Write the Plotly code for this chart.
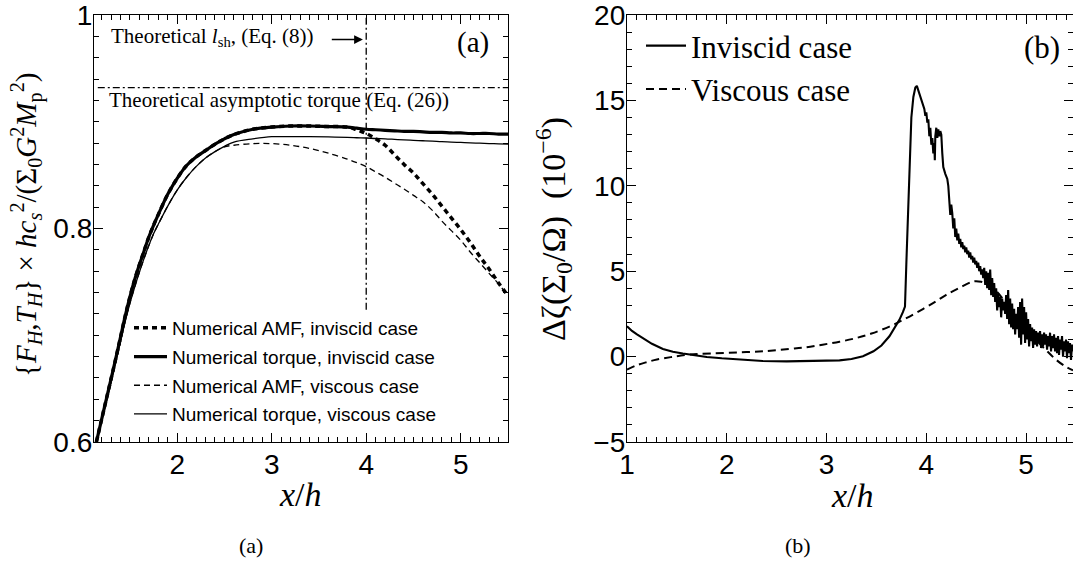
import plotly.graph_objects as go

# ---------------- panel (a): normalised AMF and torque ----------------
xa = [1.145, 1.2, 1.25, 1.3, 1.35, 1.4, 1.45, 1.5, 1.55, 1.6, 1.65, 1.7, 1.75, 1.8,
      1.9, 2.0, 2.1, 2.2, 2.3, 2.4, 2.5, 2.6, 2.8, 3.0, 3.2, 3.4, 3.6, 3.8, 3.9, 4.0,
      4.1, 4.2, 4.3, 4.4, 4.5, 4.6, 4.7, 4.8, 4.9, 5.0, 5.1, 5.2, 5.3, 5.4, 5.5]

torque_inviscid = [0.600, 0.621, 0.640, 0.659, 0.678, 0.698, 0.718, 0.736, 0.752, 0.766,
                   0.779, 0.792, 0.803, 0.813, 0.832, 0.847, 0.859, 0.867, 0.873, 0.879,
                   0.884, 0.888, 0.893, 0.895, 0.896, 0.896, 0.8955, 0.895, 0.894, 0.893,
                   0.8925, 0.892, 0.8915, 0.891, 0.891, 0.8905, 0.890, 0.890, 0.8895, 0.8895,
                   0.889, 0.889, 0.889, 0.8885, 0.8885]

amf_inviscid = [0.600, 0.621, 0.640, 0.659, 0.678, 0.698, 0.718, 0.736, 0.752, 0.766,
                0.779, 0.792, 0.803, 0.813, 0.832, 0.847, 0.859, 0.867, 0.873, 0.879,
                0.884, 0.888, 0.893, 0.895, 0.896, 0.896, 0.8955, 0.895, 0.8925, 0.889,
                0.884, 0.878, 0.869, 0.860, 0.852, 0.842, 0.832, 0.821, 0.810, 0.799,
                0.787, 0.774, 0.762, 0.749, 0.737]

torque_viscous = [0.600, 0.620, 0.638, 0.656, 0.675, 0.694, 0.713, 0.730, 0.745, 0.759,
                  0.772, 0.784, 0.795, 0.804, 0.821, 0.836, 0.848, 0.858, 0.866, 0.872,
                  0.877, 0.881, 0.884, 0.886, 0.886, 0.886, 0.8858, 0.8853, 0.885, 0.8848,
                  0.8843, 0.884, 0.8835, 0.883, 0.8826, 0.8822, 0.8818, 0.8813, 0.881, 0.8806,
                  0.8802, 0.8799, 0.8796, 0.8793, 0.879]

amf_viscous = [0.600, 0.620, 0.638, 0.656, 0.675, 0.694, 0.713, 0.730, 0.745, 0.759,
               0.772, 0.784, 0.795, 0.804, 0.821, 0.836, 0.848, 0.858, 0.866, 0.872,
               0.8765, 0.878, 0.8795, 0.8795, 0.878, 0.875, 0.8705, 0.865, 0.8617, 0.858,
               0.853, 0.848, 0.8425, 0.837, 0.831, 0.825, 0.817, 0.807, 0.798, 0.789,
               0.778, 0.768, 0.758, 0.748, 0.737]

x_lsh = 4.0                 # theoretical shock distance l_sh (Eq. 8)
lsh_y_span = [0.724, 1.0]
torque_asymptotic = 0.932   # theoretical asymptotic torque (Eq. 26)
torque_line_x = [1.16, 5.5]

# ---------------- panel (b): vortensity perturbation ----------------
xb_inviscid = [
    1.00, 1.05, 1.10, 1.16, 1.25, 1.36, 1.46, 1.56, 1.68, 1.80, 1.95, 2.13, 2.36, 2.60,
    2.80, 3.00, 3.13, 3.25, 3.365, 3.47, 3.55, 3.63, 3.68, 3.73, 3.765, 3.786, 3.80,
    3.815, 3.83, 3.85, 3.87, 3.89, 3.905, 3.92, 3.94, 3.96, 3.98, 3.99, 4.00, 4.01, 4.02,
    4.03, 4.04, 4.05, 4.06, 4.07, 4.08, 4.085, 4.09, 4.10, 4.11, 4.12, 4.13, 4.14, 4.15,
    4.16, 4.17, 4.19, 4.21, 4.22, 4.23, 4.24, 4.25,
    4.26, 4.27, 4.28, 4.29, 4.30, 4.31, 4.32, 4.33, 4.34, 4.35, 4.36, 4.37, 4.38, 4.39,
    4.40, 4.41, 4.42, 4.43, 4.44, 4.45, 4.46, 4.47, 4.48, 4.49, 4.50, 4.51, 4.52, 4.53,
    4.54, 4.55, 4.56, 4.57, 4.58, 4.59, 4.60, 4.61, 4.62, 4.63, 4.64, 4.65, 4.66, 4.67,
    4.68, 4.69, 4.70, 4.71, 4.72, 4.73, 4.74, 4.75, 4.76, 4.77, 4.78, 4.79, 4.80, 4.81,
    4.82, 4.83, 4.84, 4.85, 4.86, 4.87, 4.88, 4.89, 4.90, 4.91, 4.92, 4.93, 4.94, 4.95,
    4.96, 4.97, 4.98, 4.99, 5.00, 5.01, 5.02, 5.03, 5.04, 5.05, 5.06, 5.07, 5.08, 5.09,
    5.10, 5.11, 5.12, 5.13, 5.14, 5.15, 5.16, 5.17, 5.18, 5.19, 5.20, 5.21, 5.22, 5.23,
    5.24, 5.25, 5.26, 5.27, 5.28, 5.29, 5.30, 5.31, 5.32, 5.33, 5.34, 5.35, 5.36, 5.37,
    5.38, 5.39, 5.40, 5.41, 5.42, 5.43, 5.44, 5.45, 5.46, 5.47]

dzeta_inviscid = [
    1.77, 1.50, 1.30, 1.09, 0.75, 0.45, 0.28, 0.18, 0.06, -0.02, -0.10, -0.18, -0.26, -0.28,
    -0.27, -0.25, -0.22, -0.14, 0.02, 0.31, 0.65, 1.19, 1.65, 2.15, 2.60, 2.93, 5.5,
    8.5, 11.5, 14.0, 15.2, 15.75, 15.85, 15.6, 15.2, 14.9, 14.5, 14.1, 14.3, 13.7, 13.9,
    12.9, 13.4, 12.4, 12.8, 11.9, 12.5, 11.5, 12.9, 13.4, 12.8, 13.3, 12.9, 13.2, 13.0,
    11.9, 11.1, 10.7, 10.4, 10.0, 9.1, 8.3, 8.9,
    8.4, 7.5, 8.1, 7.0, 7.5, 6.8, 7.2, 6.6, 6.9, 6.4, 6.7, 6.3, 6.5, 6.1,
    6.4, 6.0, 6.2, 5.8, 6.1, 5.7, 5.9, 5.5, 5.8, 5.4, 5.6, 5.2, 5.5, 5.0,
    5.3, 4.8, 5.1, 4.6, 5.2, 4.2, 5.0, 4.0, 4.9, 3.9, 5.1, 3.6, 4.6, 3.5,
    4.3, 3.2, 4.0, 2.7, 3.7, 2.9, 3.5, 2.3, 3.4, 2.7, 3.2, 2.5, 3.6, 2.2,
    3.9, 1.9, 3.4, 1.7, 3.1, 1.6, 2.8, 1.3, 2.5, 1.6, 2.9, 1.1, 3.2, 0.7,
    3.4, 1.3, 2.9, 0.8, 2.6, 1.0, 2.2, 0.6, 1.9, 0.9, 1.7, 0.5, 1.6, 0.7,
    1.5, 0.6, 1.4, 0.8, 1.5, 0.5, 1.3, 0.6, 1.4, 0.7, 1.3, 0.4, 1.2, 0.6,
    1.4, 0.3, 1.2, 0.5, 1.3, 0.3, 1.1, 0.2, 1.2, 0.1, 1.0, 0.4, 1.2, 0.0,
    0.9, 0.3, 1.0, -0.1, 0.9, 0.2, 0.8, -0.2, 0.7, 0.3]

xb_viscous = [1.0, 1.1, 1.2, 1.3, 1.45, 1.63, 1.85, 2.13, 2.4, 2.63, 2.8, 2.96, 3.13, 3.3,
              3.45, 3.63, 3.8, 3.97, 4.1, 4.2, 4.33, 4.47, 4.55, 4.6, 4.7, 4.8, 4.87, 5.0,
              5.1, 5.2, 5.3, 5.4, 5.47]
dzeta_viscous = [-0.76, -0.50, -0.32, -0.17, -0.02, 0.12, 0.19, 0.25, 0.33, 0.45, 0.55, 0.70,
                 0.87, 1.09, 1.35, 1.76, 2.25, 2.80, 3.25, 3.62, 4.02, 4.40, 4.38, 4.26, 3.85,
                 3.10, 2.54, 1.70, 0.98, 0.38, -0.18, -0.60, -0.80]

# axis ranges and ticks
xrange_a, yrange_a = [1.12, 5.5], [0.6, 1.0]
xrange_b, yrange_b = [1, 5.47], [-5, 20]
yticks_a = [0.6, 0.8, 1.0]
yticktext_a = ["0.6", "0.8", "1"]
xticks = [1, 2, 3, 4, 5]
yticks_b = [-5, 0, 5, 10, 15, 20]

SANS = "Liberation Sans, Arial, sans-serif"
SERIF = "Liberation Serif, Times New Roman, serif"
W, H = 1073, 565

fig = go.Figure()

# panel (a) curves
fig.add_trace(go.Scatter(x=xa, y=amf_viscous, mode="lines", name="Numerical AMF, viscous case",
                         line=dict(color="black", width=1.3, dash="6px,4px", shape="spline"),
                         xaxis="x", yaxis="y", legend="legend", legendgroup="g3", legendrank=3))
fig.add_trace(go.Scatter(x=xa, y=torque_viscous, mode="lines", name="Numerical torque, viscous case",
                         line=dict(color="black", width=1.3, shape="spline"),
                         xaxis="x", yaxis="y", legend="legend", legendgroup="g4", legendrank=4))
fig.add_trace(go.Scatter(x=xa, y=torque_inviscid, mode="lines", name="Numerical torque, inviscid case",
                         line=dict(color="black", width=3.2, shape="spline"),
                         xaxis="x", yaxis="y", legend="legend", legendgroup="g2", legendrank=2))
fig.add_trace(go.Scatter(x=xa, y=amf_inviscid, mode="lines", name="Numerical AMF, inviscid case",
                         line=dict(color="black", width=3.5, dash="5px,4px", shape="spline"),
                         xaxis="x", yaxis="y", legend="legend", legendgroup="g1", legendrank=1))

# theoretical references in panel (a)
fig.add_trace(go.Scatter(x=[x_lsh, x_lsh], y=lsh_y_span, mode="lines", showlegend=False,
                         line=dict(color="black", width=1.3, dash="7px,3px,2px,3px"),
                         xaxis="x", yaxis="y", hoverinfo="skip"))
fig.add_trace(go.Scatter(x=torque_line_x, y=[torque_asymptotic, torque_asymptotic], mode="lines",
                         showlegend=False,
                         line=dict(color="black", width=1.3, dash="7px,3px,2px,3px"),
                         xaxis="x", yaxis="y", hoverinfo="skip"))

# panel (b) curves
fig.add_trace(go.Scatter(x=xb_inviscid, y=dzeta_inviscid, mode="lines", name="Inviscid case",
                         line=dict(color="black", width=2.1),
                         xaxis="x2", yaxis="y2", legend="legend2"))
fig.add_trace(go.Scatter(x=xb_viscous, y=dzeta_viscous, mode="lines", name="Viscous case",
                         line=dict(color="black", width=2, dash="8px,5px", shape="spline"),
                         xaxis="x2", yaxis="y2", legend="legend2"))


def axis(domain, rng, vals, anchor, standoff, minor_step, minor_start, text=None):
    d = dict(
        domain=domain, range=rng, anchor=anchor, automargin=False,
        showline=True, linecolor="black", linewidth=1.3, mirror="allticks",
        ticks="inside", ticklen=9, tickwidth=1.3, tickcolor="#000000",
        tickmode="array", tickvals=vals, ticklabelstandoff=standoff,
        showgrid=False, zeroline=False, ticklabeloverflow="allow",
        tickfont=dict(family=SANS, size=28, color="black"),
        minor=dict(ticks="inside", ticklen=5, tickwidth=1.1, tickcolor="#000000",
                   showgrid=False, tickmode="linear", dtick=minor_step, tick0=minor_start),
    )
    if text is not None:
        d["ticktext"] = text
    return d


y_dom = [1 - 442 / H, 1 - 15 / H]

fig.update_layout(
    width=W, height=H, autosize=False,
    margin=dict(l=0, r=0, t=0, b=0, pad=0, autoexpand=False),
    paper_bgcolor="white", plot_bgcolor="white",
    xaxis=axis([94 / W, 508 / W], xrange_a, xticks, "y", -3, 0.1, 1),
    yaxis=axis(y_dom, yrange_a, yticks_a, "x", -5, 0.02, 0.6, yticktext_a),
    xaxis2=axis([627 / W, 1.0], xrange_b, xticks, "y2", -3, 0.1, 1),
    yaxis2=axis(y_dom, yrange_b, yticks_b, "x2", -5, 1, -5),
    legend=dict(x=129 / W, y=1 - 309 / H, xanchor="left", yanchor="top",
                bgcolor="rgba(0,0,0,0)", borderwidth=0, tracegroupgap=1, itemwidth=33,
                font=dict(family=SANS, size=19, color="black")),
    legend2=dict(x=641 / W, y=1 - 19 / H, xanchor="left", yanchor="top",
                 bgcolor="rgba(0,0,0,0)", borderwidth=0, itemwidth=40,
                 font=dict(family=SERIF, size=31, color="black")),
    showlegend=True,
)


def serif(s):
    return dict(family=SERIF, size=s, color="black")


def label(x, y, text, size, xref="paper", yref="paper", angle=0, xanchor="center"):
    return dict(x=x, y=y, xref=xref, yref=yref, text=text, showarrow=False,
                xanchor=xanchor, yanchor="middle", textangle=angle, font=serif(size))


annotations = [
    # panel (a)
    label(1.283, 0.9797, "Theoretical <i>l</i><sub>sh</sub>, (Eq. (8))", 21, "x", "y", xanchor="left"),
    dict(x=3.965, y=0.977, ax=3.62, ay=0.977, xref="x", yref="y", axref="x", ayref="y",
         text="", showarrow=True, arrowhead=2, arrowsize=1.1, arrowwidth=1.6, arrowcolor="black"),
    label(1.26, 0.9204, "Theoretical asymptotic torque (Eq. (26))", 21, "x", "y", xanchor="left"),
    label(5.134, 0.9743, "(a)", 29, "x", "y"),
    label(300 / W, 1 - 494 / H, "<i>x</i>/<i>h</i>", 34),
    label(27 / W, 1 - 225 / H,
          "{<i>F<sub>H</sub></i>,<i>T<sub>H</sub></i>} × <i>hc</i><sub><i>s</i></sub><sup>2</sup>"
          "/(Σ<sub>0</sub><i>G</i><sup>2</sup><i>M</i><sub>p</sub><sup>2</sup>)", 29, angle=-90),
    label(251 / W, 1 - 545 / H, "(a)", 22),
    # panel (b)
    label(5.155, 18.1, "(b)", 31, "x2", "y2"),
    label(852 / W, 1 - 495 / H, "<i>x</i>/<i>h</i>", 34),
    label(553 / W, 1 - 229 / H, "Δζ(Σ<sub>0</sub>/Ω)  (10<sup>−6</sup>)", 34, angle=-90),
    label(798 / W, 1 - 545 / H, "(b)", 22),
]
fig.update_layout(annotations=annotations)

fig.write_html("out.html", config={"displayModeBar": False, "responsive": False})
